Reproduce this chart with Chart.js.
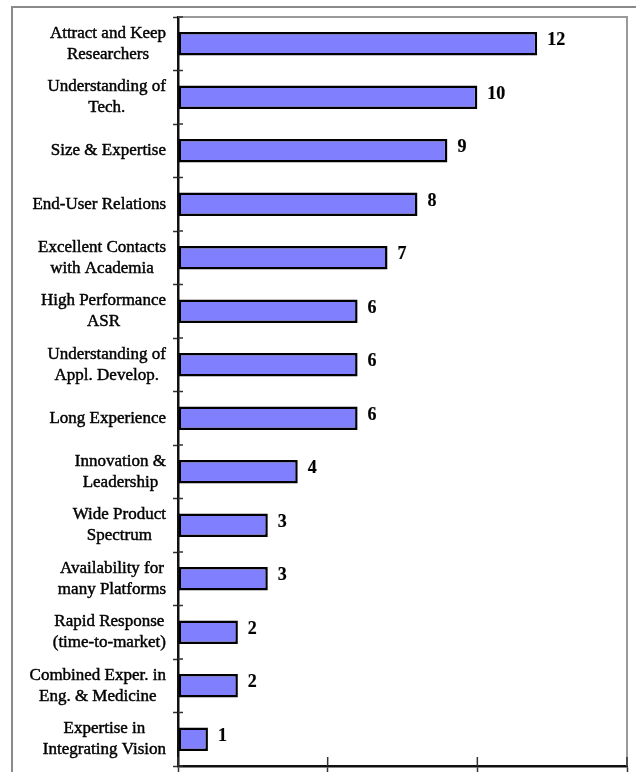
<!DOCTYPE html>
<html>
<head>
<meta charset="utf-8">
<script src="https://cdn.jsdelivr.net/npm/chart.js@4.4.1/dist/chart.umd.min.js"></script>
<style>
  html, body { margin: 0; padding: 0; background: #fff; }
  canvas { display: block; }
</style>
</head>
<body>
<canvas id="strengthChart" width="636" height="772"></canvas>
<script>
// categories (top to bottom) and number of mentions
const categories = [
  ["Attract and Keep", "Researchers"],
  ["Understanding of", "Tech."],
  ["Size & Expertise"],
  ["End-User Relations"],
  ["Excellent Contacts", "with Academia"],
  ["High Performance", "ASR"],
  ["Understanding of", "Appl. Develop."],
  ["Long Experience"],
  ["Innovation &", "Leadership"],
  ["Wide Product", "Spectrum"],
  ["Availability for", "many Platforms"],
  ["Rapid Response", "(time-to-market)"],
  ["Combined Exper. in", "Eng. & Medicine"],
  ["Expertise in", "Integrating Vision"]
];
const counts = [12, 10, 9, 8, 7, 6, 6, 6, 4, 3, 3, 2, 2, 1];
const xTicks = [0, 5, 10, 15];

const FONT = '"Liberation Serif", "Times New Roman", serif';

// slightly heavier text than the regular face
function heavyText(ctx, txt, x, y, w) {
  ctx.lineWidth = w;
  ctx.strokeText(txt, x, y);
  ctx.fillText(txt, x, y);
}

// frame lines, inner tick halves, category labels and value labels
const decorations = {
  id: "decorations",
  afterDraw(chart) {
    const ctx = chart.ctx;
    const area = chart.chartArea;
    const xs = chart.scales.x;
    const ys = chart.scales.y;
    ctx.save();

    // outer frame (left + top)
    ctx.strokeStyle = "#8a8a8a";
    ctx.lineWidth = 2;
    ctx.beginPath();
    ctx.moveTo(12, 772);
    ctx.lineTo(12, 7);
    ctx.lineTo(636, 7);
    ctx.stroke();

    // plot frame (top + right)
    ctx.strokeStyle = "#9a9a9a";
    ctx.beginPath();
    ctx.moveTo(area.left, area.top);
    ctx.lineTo(area.right, area.top);
    ctx.lineTo(area.right, area.bottom);
    ctx.stroke();

    // tick marks cross the axes: draw the inner half
    ctx.strokeStyle = "#333";
    ctx.lineWidth = 1.5;
    ctx.beginPath();
    for (let i = 0; i < xs.ticks.length; i++) {
      const px = xs.getPixelForTick(i);
      ctx.moveTo(px, area.bottom);
      ctx.lineTo(px, area.bottom - 9);
    }
    for (let i = 0; i <= categories.length; i++) {
      const py = ys.top + (ys.bottom - ys.top) * i / categories.length;
      ctx.moveTo(area.left, py);
      ctx.lineTo(area.left + 5, py);
    }
    ctx.stroke();

    // category labels: block right-aligned, lines centred in block
    ctx.fillStyle = "#000";
    ctx.strokeStyle = "#000";
    ctx.font = "17px " + FONT;
    ctx.textBaseline = "middle";
    ctx.textAlign = "center";
    categories.forEach((lines, i) => {
      const cy = ys.getPixelForValue(i);
      const w = Math.max(...lines.map(l => ctx.measureText(l).width));
      const cx = 166 - w / 2;
      lines.forEach((l, j) => {
        heavyText(ctx, l, cx, cy + (j - (lines.length - 1) / 2) * 21, 0.45);
      });
    });

    // value labels at the bar ends
    const meta = chart.getDatasetMeta(0);
    ctx.font = "bold 18px " + FONT;
    ctx.textAlign = "left";
    meta.data.forEach((bar, i) => {
      heavyText(ctx, String(counts[i]), bar.x + 10, bar.y - 3, 0.2);
    });

    ctx.restore();
  }
};

new Chart(document.getElementById("strengthChart"), {
  type: "bar",
  data: {
    labels: categories,
    datasets: [{
      data: counts,
      backgroundColor: "#8080ff",
      borderColor: "#000",
      borderWidth: 2.5,
      borderSkipped: false,
      categoryPercentage: 1,
      barPercentage: 0.44
    }]
  },
  options: {
    indexAxis: "y",
    responsive: false,
    animation: false,
    layout: { padding: { left: 0, top: 17, right: 9, bottom: 0 } },
    plugins: { legend: { display: false }, tooltip: { enabled: false } },
    scales: {
      x: {
        min: 0,
        max: 15,
        afterBuildTicks: (scale) => { scale.ticks = xTicks.map(v => ({ value: v })); },
        ticks: { display: false },
        grid: { drawOnChartArea: false, tickLength: 6, tickColor: "#333", tickWidth: 1.5 },
        border: { color: "#111", width: 2.5 },
        afterFit: (scale) => { scale.height = 6; }
      },
      y: {
        ticks: { display: false },
        grid: { drawOnChartArea: false, tickLength: 5, tickColor: "#333", tickWidth: 1.5 },
        border: { color: "#111", width: 2.5 },
        afterFit: (scale) => { scale.width = 178; }
      }
    }
  },
  plugins: [decorations]
});
</script>
</body>
</html>
